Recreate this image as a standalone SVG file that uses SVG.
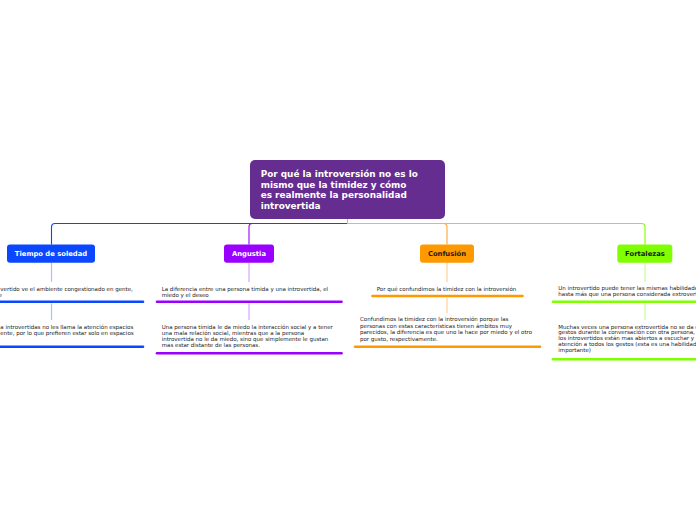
<svg xmlns="http://www.w3.org/2000/svg" width="696" height="520" viewBox="0 0 696 520">
<style>
.root{font-family:"DejaVu Sans",Verdana,sans-serif;font-weight:bold;font-size:8.9px;fill:#ffffff}
.lbl{font-family:"DejaVu Sans",Verdana,sans-serif;font-weight:bold;font-size:6.8px;text-anchor:middle}
.sub{font-family:"DejaVu Sans",Verdana,sans-serif;font-size:5.5px;fill:#222222}
.ul{fill:none;stroke-width:2.6;stroke-linecap:round}
.main{fill:none;stroke-width:1.1}
.thin{fill:none;stroke-width:1.2}
</style>
<rect width="696" height="520" fill="#ffffff"/>
<g id="connectors">
<path class="main" stroke="#0a47ff" d="M347.5,223.5 H55 Q51.5,223.5 51.5,227 V244.5"/>
<path class="main" stroke="#9900ff" d="M347.5,223.5 H252.5 Q249,223.5 249,227 V244.5"/>
<path class="main" stroke="#ffa633" d="M347.5,223.5 H443.5 Q447,223.5 447,227 V244.5"/>
<path class="main" stroke="#80ff00" d="M347.5,219 V223.5 H641.5 Q645,223.5 645,227 V244.5"/>
<path class="thin" stroke="#a9c2ff" d="M51.5,262.7 V282 M51.5,303.5 V320"/>
<path class="thin" stroke="#d9a6ff" d="M249,262.7 V282 M249,303.5 V320"/>
<path class="thin" stroke="#ffd199" d="M447,262.7 V282 M447,298 V313"/>
<path class="thin" stroke="#c9ff99" d="M645,262.7 V282 M645,303.5 V320"/>
</g>
<g id="root">
<rect x="250" y="160" width="195" height="59" rx="5" fill="#662d91"/>
<text class="root" x="260.7" y="177">Por qué la introversión no es lo</text>
<text class="root" x="260.7" y="187.7">mismo que la timidez y cómo</text>
<text class="root" x="260.7" y="198.4">es realmente la personalidad</text>
<text class="root" x="260.7" y="209.1">introvertida</text>
</g>
<g id="tiempo">
<rect x="7" y="244.5" width="88" height="18.2" rx="3" fill="#0a47ff"/>
<text class="lbl" x="51" y="256.3" fill="#ffffff">Tiempo de soledad</text>
</g>
<g id="tiempo-1">
<text class="sub" x="0.3" y="291">vertido ve el ambiente congestionado en gente,</text>
<text class="sub" x="-1.5" y="297">e</text>
<line class="ul" stroke="#0a47ff" x1="-41" y1="301.7" x2="143" y2="301.7"/>
</g>
<g id="tiempo-2">
<text class="sub" x="0.3" y="328.5">a introvertidas no les llama la atención espacios</text>
<text class="sub" x="0.3" y="334.5">ente, por lo que prefieren estar solo en espacios</text>
<line class="ul" stroke="#0a47ff" x1="-41" y1="346.7" x2="143" y2="346.7"/>
</g>
<g id="angustia">
<rect x="224" y="244.5" width="50" height="18.2" rx="3" fill="#9900ff"/>
<text class="lbl" x="249" y="256.3" fill="#ffffff">Angustia</text>
</g>
<g id="angustia-1">
<text class="sub" x="161.7" y="291">La diferencia entre una persona tímida y una introvertida, el</text>
<text class="sub" x="161.7" y="297">miedo y el deseo</text>
<line class="ul" stroke="#9900ff" x1="157" y1="301.7" x2="341.5" y2="301.7"/>
</g>
<g id="angustia-2">
<text class="sub" x="161.7" y="328.5">Una persona tímida le da miedo la interacción social y a tener</text>
<text class="sub" x="161.7" y="334.7">una mala relación social, mientras que a la persona</text>
<text class="sub" x="161.7" y="340.9">introvertida no le da miedo, sino que simplemente le gustan</text>
<text class="sub" x="161.7" y="347.1">mas estar distante de las personas.</text>
<line class="ul" stroke="#9900ff" x1="157" y1="353.3" x2="341.5" y2="353.3"/>
</g>
<g id="confusion">
<rect x="420" y="244.5" width="54" height="18.2" rx="3" fill="#ff9900"/>
<text class="lbl" x="447" y="256.3" fill="#1a1a1a">Confusión</text>
</g>
<g id="confusion-1">
<text class="sub" x="376.7" y="291">Por qué confundimos la timidez con la introversión</text>
<line class="ul" stroke="#ff9900" x1="372.5" y1="296" x2="522.5" y2="296"/>
</g>
<g id="confusion-2">
<text class="sub" x="360" y="321">Confundimos la timidez con la introversión porque las</text>
<text class="sub" x="360" y="327.5">personas con estas características tienen ámbitos muy</text>
<text class="sub" x="360" y="334">parecidos, la diferencia es que uno la hace por miedo y el otro</text>
<text class="sub" x="360" y="340.6">por gusto, respectivamente.</text>
<line class="ul" stroke="#ff9900" x1="355" y1="346.7" x2="540" y2="346.7"/>
</g>
<g id="fortalezas">
<rect x="617.3" y="244.5" width="55" height="18.2" rx="3" fill="#80ff00"/>
<text class="lbl" x="645" y="256.3" fill="#1a1a1a">Fortalezas</text>
</g>
<g id="fortalezas-1">
<text class="sub" x="558.3" y="289.8">Un introvertido puede tener las mismas habilidades</text>
<text class="sub" x="558.3" y="295.8">hasta más que una persona considerada extrovertida</text>
<line class="ul" stroke="#80ff00" x1="553" y1="301.7" x2="737" y2="301.7"/>
</g>
<g id="fortalezas-2">
<text class="sub" x="558.3" y="328.5">Muchas veces una persona extrovertida no se da cuenta</text>
<text class="sub" x="558.3" y="334.4">gestos durante la conversación con otra persona,</text>
<text class="sub" x="558.3" y="340.3">los introvertidos están mas abiertos a escuchar y</text>
<text class="sub" x="558.3" y="346.2">atención a todos los gestos (esta es una habilidad</text>
<text class="sub" x="558.3" y="352.3">importante)</text>
<line class="ul" stroke="#80ff00" x1="553" y1="359.3" x2="737" y2="359.3"/>
</g>
</svg>
